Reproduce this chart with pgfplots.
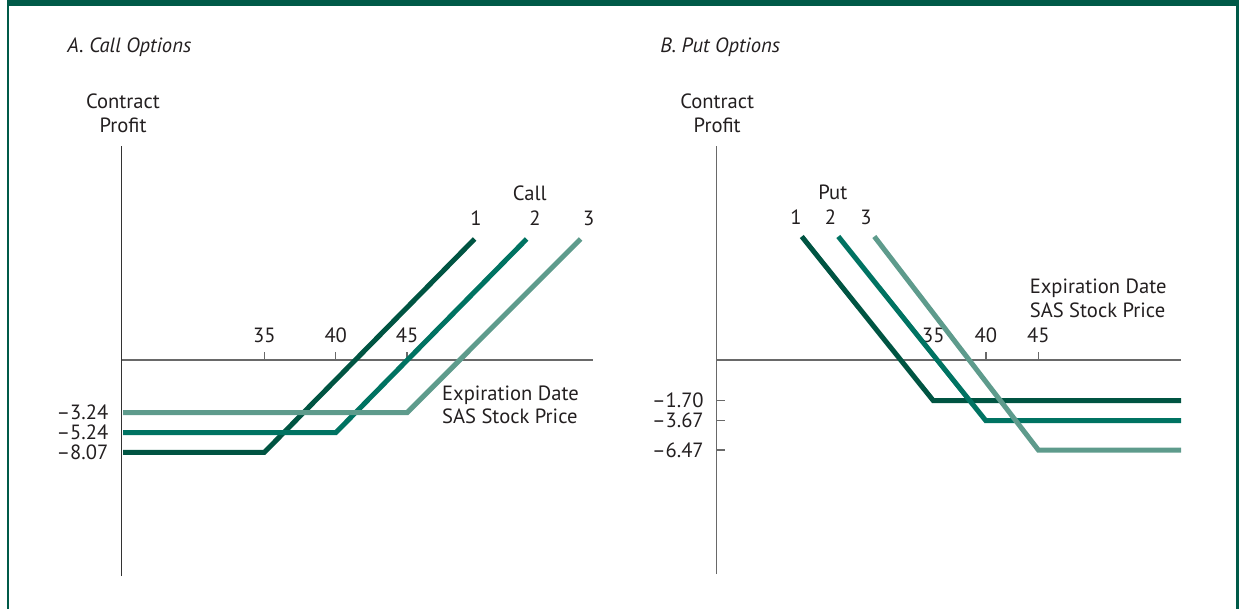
\documentclass[border=0pt]{standalone}
\usepackage{pgfplots}
\pgfplotsset{compat=1.18}
\usepackage{fontspec}
\setmainfont{PT Sans}
\definecolor{cA}{RGB}{0,84,66}
\definecolor{cB}{RGB}{0,115,98}
\definecolor{cC}{RGB}{94,155,140}
\definecolor{frame}{RGB}{0,90,72}
\definecolor{txt}{RGB}{35,31,32}
\definecolor{axgray}{RGB}{105,105,105}
\newcommand{\fs}{\fontsize{10.3}{12}\selectfont}

% Profit axis is drawn schematically (not to scale), as in the original figure:
% y values below are vertical display positions; the tick labels carry the real profits.
\pgfplotstableread{
x y
25.1 -9.23
35 -9.23
49.73 12.1
}\callone
\pgfplotstableread{
x y
25.1 -7.27
40 -7.27
53.38 12.1
}\calltwo
\pgfplotstableread{
x y
25.1 -5.27
45 -5.27
57.16 12.1
}\callthree
\pgfplotstableread{
x y
22.47 12.35
35 -4.07
58.59 -4.07
}\putone
\pgfplotstableread{
x y
25.95 12.35
40 -6.07
58.59 -6.07
}\puttwo
\pgfplotstableread{
x y
29.38 12.35
45 -9.0
58.59 -9.0
}\putthree

\pgfplotsset{
  panel/.style={
    scale only axis, clip=false,
    axis x line=middle, axis y line=left,
    axis line style={-, line width=0.75pt},
    x axis line style={-, draw=axgray},
    xtick align=inside, major tick length=4pt,
    tick style={draw=axgray, line width=0.75pt},
    minor tick num=0,
    xticklabel style={anchor=base, inner sep=0pt, yshift=8.85pt},
    yticklabel style={anchor=east, inner sep=0pt},
    every tick label/.append style={font=\fs, text=txt},
  },
  pl/.style={line width=2.5pt, line join=miter},
}

\begin{document}
\begin{tikzpicture}
\path[use as bounding box] (0,0) rectangle (620.5pt,-304.5pt);
\fill[frame] (3.35pt,0) rectangle (619.35pt,-2.85pt);
\fill[frame] (3.35pt,0) rectangle (4.65pt,-304.5pt);
\fill[frame] (618pt,0) rectangle (619.35pt,-304.5pt);

\begin{axis}[panel, at={(60.85pt,-288pt)}, anchor=south west,
  width=235.65pt, height=215pt,
  xmin=25, xmax=58.03, ymin=-21.6, ymax=21.4,
  xtick={35,40,45}, xticklabels={35,40,45},
  ytick={-5.27,-7.27,-9.23},
  yticklabels={\textendash3.24,\textendash5.24,\textendash8.07},
  ytick style={draw=none},
  y axis line style={-, draw=black!80},
  yticklabel style={xshift=-4.5pt},
]
\addplot[pl, cA] table {\callone};
\addplot[pl, cB] table {\calltwo};
\addplot[pl, cC] table {\callthree};
\end{axis}

\begin{axis}[panel, at={(358.35pt,-287pt)}, anchor=south west,
  width=232.15pt, height=214pt,
  xmin=14.37, xmax=58.59, ymin=-21.4, ymax=21.4,
  xtick={35,40,45}, xticklabels={35,40,45},
  ytick={-4.07,-6.07,-9.0},
  yticklabels={\textendash1.70,\textendash3.67,\textendash6.47},
  ytick align=inside,
  y axis line style={-, draw=axgray},
  yticklabel style={xshift=-6.3pt},
]
\addplot[pl, cA] table {\putone};
\addplot[pl, cB] table {\puttwo};
\addplot[pl, cC] table {\putthree};
\end{axis}

\begin{scope}[x=0.5pt, y=-0.5pt, every node/.style={inner sep=0pt, text=txt, font=\fs}]
\node[anchor=base west, font=\fs\itshape] at (67,53) {A. Call Options};
\node[anchor=base west, font=\fs\itshape] at (660,53) {B. Put Options};
\node[anchor=base] at (123,108.3) {Contract};
\node[anchor=base] at (123,132.7) {Profit};
\node[anchor=base] at (717.2,108.3) {Contract};
\node[anchor=base] at (717.2,132.7) {Profit};
\node[anchor=base] at (529.7,201) {Call};
\node[anchor=base] at (476,226) {1};
\node[anchor=base] at (535,226) {2};
\node[anchor=base] at (588.7,226) {3};
\node[anchor=base] at (832.8,199.5) {Put};
\node[anchor=base] at (796,225) {1};
\node[anchor=base] at (830.5,225) {2};
\node[anchor=base] at (866,225) {3};
\node[anchor=base west] at (441.7,400) {Expiration Date};
\node[anchor=base west] at (441.7,423.3) {SAS Stock Price};
\node[anchor=base west] at (1029.4,293.7) {Expiration Date};
\node[anchor=base west] at (1029.4,317) {SAS Stock Price};
\end{scope}
\end{tikzpicture}
\end{document}
